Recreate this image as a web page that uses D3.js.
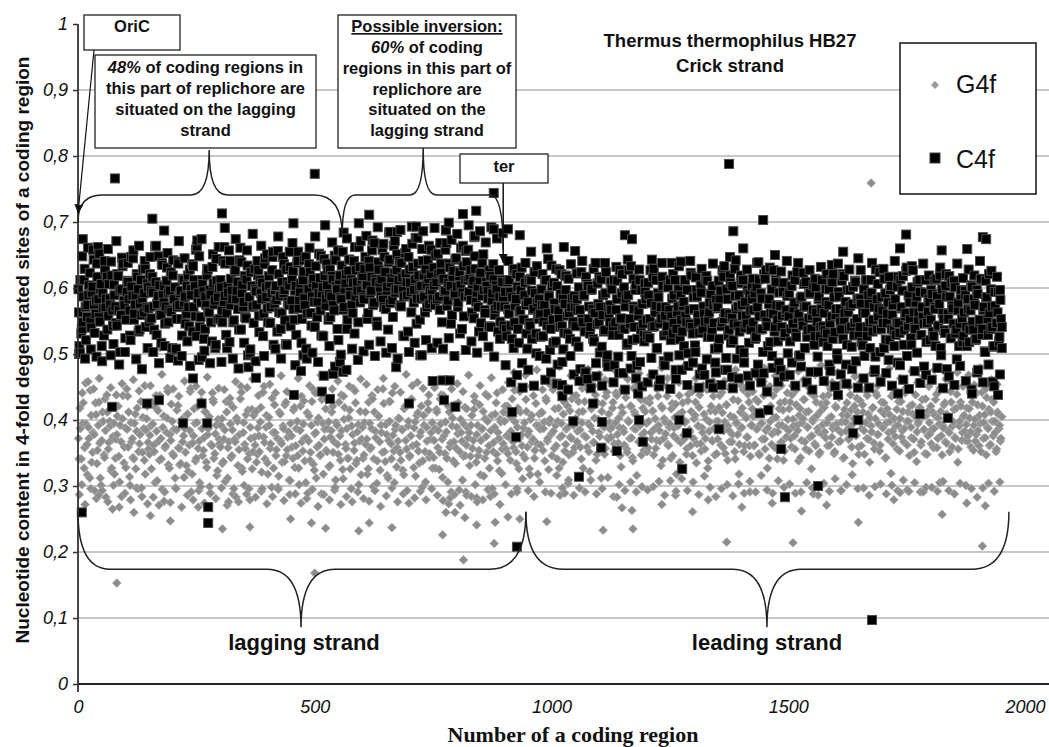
<!DOCTYPE html>
<html>
<head>
<meta charset="utf-8">
<script src="https://cdn.jsdelivr.net/npm/d3@7.9.0/dist/d3.min.js"></script>
<style>
  html, body { margin: 0; padding: 0; background: #fff; }
  svg { display: block; font-family: "Liberation Sans", Arial, sans-serif; }
  .tick-label { font-style: italic; font-size: 18px; fill: #111; }
  .box-text { font-weight: bold; font-size: 16.5px; fill: #111; }
</style>
</head>
<body>
<svg id="chart" width="1049" height="747"></svg>
<script>
// ------- data -------
const xTicks = [0, 500, 1000, 1500, 2000];
const yTicks = [0, 0.1, 0.2, 0.3, 0.4, 0.5, 0.6, 0.7, 0.8, 0.9, 1];

// interleaved samples of the coding regions (values in thousandths)
const regionStep = 3;
const startA = 1;      // regions 1, 4, 7, ...
const startB = 2;      // regions 2, 5, 8, ...
const tailStart = 3;   // regions 3, 9, 15, ... (points away from the core)
const tailStep = 6;

const c4fValues = [
  598,502,531,548,612,571,556,589,623,540,602,575,561,637,583,549,606,592,528,571,617,558,584,640,566,
  605,572,543,618,596,559,633,581,524,594,609,566,647,588,552,575,621,598,537,612,584,563,629,571,601,
  548,596,617,572,663,529,588,604,559,635,578,546,611,593,567,624,509,582,601,553,640,574,596,528,612,
  587,561,619,542,598,636,571,603,527,584,648,556,612,595,538,574,628,563,590,519,607,581,644,552,599,
  612,566,641,588,529,603,657,574,596,548,625,583,609,537,661,592,571,618,554,634,586,507,603,572,629,
  595,641,558,612,583,527,636,601,569,618,547,592,655,576,603,534,621,588,562,647,597,515,609,574,632,
  581,626,552,603,638,569,594,517,612,585,647,561,598,624,543,607,579,633,556,592,615,528,601,644,573,
  604,552,628,587,613,566,642,598,521,619,583,655,571,607,538,626,594,613,562,641,587,609,548,632,596,
  618,583,647,604,562,631,596,672,578,613,549,639,605,587,658,571,624,596,537,643,608,582,664,593,627,
  598,641,572,616,587,653,609,534,628,594,667,578,613,546,637,601,584,659,619,563,605,642,576,621,592,
  631,574,609,652,587,623,548,614,596,668,581,637,603,559,626,592,645,571,618,604,538,633,587,656,612,
  594,627,563,611,648,579,602,534,623,588,651,567,609,595,542,618,581,636,559,604,573,627,549,612,586,
  572,538,609,561,594,523,627,548,583,602,517,566,631,552,589,574,508,612,543,596,567,624,531,578,553,
  561,598,527,574,612,543,589,506,634,552,577,519,603,566,541,621,584,532,597,558,614,523,571,546,588,
  542,583,511,567,624,548,589,472,606,553,531,597,568,519,638,545,576,502,613,559,534,592,487,571,548,
  567,529,612,548,583,496,627,554,538,601,572,514,589,546,633,521,568,597,483,558,612,537,576,529,594,
  552,608,524,577,541,629,563,508,592,546,571,617,489,558,534,601,567,521,584,547,612,538,572,498,589,
  534,579,612,548,501,567,623,541,586,513,597,559,532,604,478,572,549,618,526,563,591,537,574,508,582,
  571,523,596,548,617,562,494,583,537,608,555,521,629,568,543,589,506,574,612,539,558,597,517,566,603,
  548,592,526,571,613,537,584,503,559,627,542,576,518,598,561,534,609,552,487,573,541,594,527,562,588,
  557,519,603,546,578,532,624,561,498,587,543,571,609,526,554,592,538,567,514,601,549,583,527,568,542,
  562,598,531,574,547,612,523,586,559,501,594,568,537,621,552,579,514,563,597,541,576,528,609,553,584,
  541,576,513,598,562,527,589,548,612,534,571,496,583,557,624,538,566,509,592,547,578,521,603,559,536,
  583,548,617,532,569,596,514,557,631,542,578,524,601,563,538,587,552,612,529,571,546,593,518,564,579,
  552,591,527,568,614,541,576,509,598,553,532,587,561,618,524,573,546,601,537,566,512,589,554,527,596,
  541,583,518,566,602,537,574,523,591,548,612,529,567,504,586,553,621,538,572,511,594,547,563,519,582,541
];

const c4fValues2 = [
  563,612,538,587,629,521,574,604,549,593,658,532,581,617,556,598,512,569,641,584,537,606,575,619,543,
  589,547,621,566,503,598,637,574,552,611,583,528,602,645,561,589,617,534,576,559,628,592,541,607,569,
  621,554,593,537,609,576,648,561,517,589,603,572,631,548,596,564,619,583,506,571,637,592,553,614,578,
  546,603,571,628,589,534,612,557,663,592,541,578,606,523,587,619,564,597,548,632,575,509,611,586,553,
  601,548,579,637,562,593,518,614,583,551,627,596,568,642,537,605,579,556,613,498,586,624,571,547,598,
  574,619,533,592,608,561,645,586,548,603,571,627,514,597,582,656,563,538,609,592,551,628,579,604,542,
  613,568,596,529,641,582,607,553,625,574,508,598,636,562,587,614,541,603,579,652,566,592,527,618,584,
  627,591,556,618,574,649,603,538,612,586,634,567,598,621,552,643,589,574,608,531,627,596,662,578,613,
  586,629,604,553,641,592,617,574,668,609,543,628,595,613,582,647,568,602,639,577,615,556,623,598,651,
  612,574,638,596,527,621,589,647,608,563,632,597,676,584,619,552,603,641,587,628,571,614,596,658,583,
  604,649,583,621,567,637,612,594,658,573,608,631,546,617,589,643,602,578,624,661,593,557,612,639,588,
  617,582,606,554,629,593,571,612,547,638,597,562,603,584,627,541,592,613,568,598,534,587,572,609,543,
  594,527,568,612,543,586,509,573,621,538,564,597,486,552,608,531,579,547,614,523,568,592,501,557,583,
  526,574,549,611,493,562,587,538,603,517,568,629,484,553,591,542,507,576,618,531,562,497,584,549,571,
  519,566,601,477,553,588,534,617,462,572,541,598,523,562,486,607,548,571,511,589,536,624,498,557,574,
  598,542,483,567,611,529,553,592,471,538,584,516,627,553,497,572,541,605,523,566,488,597,546,519,583,
  527,589,553,494,617,542,573,509,586,461,554,603,528,571,542,496,612,557,531,589,476,563,598,522,552,
  573,512,558,597,482,546,619,531,568,503,587,548,469,593,537,561,614,492,552,578,526,603,547,487,569,
  509,584,542,627,553,476,598,528,561,517,603,546,588,493,572,534,619,558,502,579,546,467,592,537,583,
  567,523,601,484,557,592,538,471,614,549,512,583,562,497,627,541,574,519,593,476,558,608,532,567,501,
  592,538,487,569,612,526,553,497,584,548,623,509,572,536,591,473,558,604,527,563,496,587,541,612,518,
  536,579,512,598,474,557,621,533,568,492,587,549,611,523,562,484,597,538,573,511,602,547,489,583,529,
  584,518,563,497,612,541,576,509,593,552,473,628,537,569,503,586,547,614,522,561,491,597,538,574,512,
  529,602,547,483,571,618,536,562,497,589,553,514,627,541,578,502,563,594,529,556,481,612,547,583,521,
  597,534,571,512,588,543,619,498,562,536,603,477,553,587,524,569,611,531,492,578,546,597,518,563,589,
  512,568,537,604,549,583,521,597,476,552,614,538,571,503,586,529,562,598,541,512,573,547,594,526,553
];

const c4fTails = [
  512,648,493,661,507,643,496,652,489,627,659,498,515,671,484,646,503,638,521,657,492,664,477,641,509,
  647,503,664,486,638,512,653,494,642,508,671,497,645,519,482,633,658,491,674,505,629,486,651,514,662,
  488,662,509,641,493,674,478,639,517,657,501,682,489,627,664,497,651,472,647,508,678,493,636,514,655,
  668,483,655,474,642,493,661,502,678,488,649,467,637,512,669,481,657,499,684,476,643,508,662,491,671,
  504,679,514,657,497,692,519,667,502,684,509,671,493,688,528,659,503,693,517,676,498,686,521,664,509,
  691,517,668,508,687,524,673,497,682,531,664,506,695,519,677,502,686,527,669,511,692,496,675,523,683,
  483,641,457,629,468,617,449,638,476,612,452,633,497,621,461,644,472,608,455,627,488,619,446,636,469,
  622,459,641,473,603,448,629,466,617,452,638,481,609,457,632,471,621,446,643,478,614,463,628,451,607,
  457,627,469,612,451,638,483,604,447,621,462,633,476,609,453,641,487,616,449,629,468,611,455,637,472,
  611,453,633,476,619,448,642,463,607,487,628,452,614,471,639,457,621,443,631,479,612,458,625,466,641,
  468,619,452,638,481,606,457,627,446,614,473,632,459,621,484,609,451,637,469,618,455,628,477,611,449,
  627,463,612,449,638,476,606,458,629,471,617,452,641,487,613,461,626,447,633,474,609,456,637,468,619,
  461,612,479,631,448,621,466,608,453,637,482,615,459,628,446,619,472,641,457,611,484,626,451,617,469
];

const g4fValues = [
  372,418,341,395,327,456,363,389,312,407,351,378,426,334,392,365,301,412,347,384,438,356,398,323,371,
  395,342,378,421,306,367,402,335,388,447,359,314,396,372,341,409,383,296,364,428,351,387,318,402,366,
  348,391,427,362,305,383,414,339,372,295,406,358,381,443,327,369,398,346,312,385,422,357,334,401,376,
  387,331,409,362,448,318,376,395,342,421,368,299,387,354,413,336,378,405,289,361,427,349,392,323,371,
  359,402,337,385,428,312,367,394,346,419,371,283,398,355,432,327,381,363,408,341,296,389,416,352,374,
  413,348,376,397,321,442,366,389,335,404,357,298,381,423,346,372,315,409,364,391,337,427,355,382,308,
  376,342,419,361,398,327,384,436,353,372,305,411,368,339,392,447,324,381,359,403,346,288,395,371,417,
  352,397,331,384,421,367,309,392,348,376,438,325,401,363,387,342,415,296,378,354,426,339,393,368,317,
  389,347,412,371,326,395,358,432,341,383,304,406,367,392,351,425,337,378,312,398,364,441,353,386,329,
  368,402,339,385,317,421,356,391,344,376,452,328,397,363,411,335,382,298,407,352,389,426,343,371,396,
  343,387,416,358,325,394,371,437,349,382,306,412,365,391,338,423,357,379,294,401,368,345,419,362,388,
  381,345,407,369,428,336,392,354,317,386,413,342,375,398,361,284,407,352,389,426,338,372,401,319,364,
  398,356,421,374,339,403,367,445,352,389,326,412,378,347,396,431,359,383,317,407,371,342,425,364,391,
  386,412,354,397,433,368,325,401,379,446,357,392,341,418,374,395,336,427,363,388,309,414,372,351,436,
  402,367,428,385,341,413,376,452,359,394,322,417,383,366,438,348,401,375,312,425,389,357,442,371,396,
  374,418,353,396,437,365,388,329,411,382,445,356,399,372,421,343,387,408,316,392,367,431,378,354,413,
  395,358,426,381,413,347,402,369,436,384,331,418,372,397,451,363,389,342,425,376,404,318,391,437,366,
  412,377,396,348,429,385,361,443,372,407,335,391,419,364,388,452,356,401,327,383,414,369,436,347,398,
  371,419,386,442,358,397,423,339,384,406,367,431,352,395,378,318,412,389,446,361,403,374,427,345,392,
  406,362,431,387,349,413,395,458,371,384,327,419,398,363,437,382,404,341,392,426,367,415,353,388,441,
  384,427,359,401,376,445,392,338,417,369,402,431,356,389,413,374,326,398,436,361,407,382,351,424,393,
  419,373,396,438,362,405,387,349,421,394,367,452,381,408,343,397,426,371,389,415,334,402,378,433,359,
  397,361,423,384,447,372,409,336,391,418,365,402,437,378,353,414,389,426,342,396,371,408,319,383,441,
  375,416,392,353,428,384,367,441,398,412,346,389,423,371,406,337,394,418,362,431,385,349,407,376,396,
  421,386,358,407,439,372,394,413,347,388,426,365,402,381,443,359,397,374,418,336,391,427,369,405,383,
  393,368,417,382,436,354,401,378,423,361,395,442,372,408,347,389,416,363,431,376,398,352,412,387,368,405
];

const g4fValues2 = [
  341,387,302,426,358,394,317,372,445,336,381,293,408,354,427,312,369,398,343,283,412,366,391,327,375,
  318,371,406,345,392,284,437,359,328,386,412,301,367,343,395,326,418,352,378,297,404,339,385,421,356,
  377,326,394,352,419,308,368,437,341,389,277,361,403,332,378,424,349,386,297,415,358,332,396,367,313,
  351,408,322,384,291,365,417,338,396,357,305,429,346,373,412,328,387,299,363,441,342,379,316,401,364,
  392,334,371,307,412,358,426,343,385,296,367,403,331,378,451,322,396,357,288,415,349,372,326,407,362,
  336,388,352,419,296,374,341,407,318,392,364,433,327,381,355,298,412,368,336,387,423,346,374,309,395,
  359,415,328,387,346,302,421,367,394,338,373,289,406,351,428,333,379,312,397,362,347,431,318,386,354,
  387,329,374,412,351,294,396,363,427,339,384,311,419,357,342,403,326,391,448,365,334,382,302,413,371,
  342,396,363,318,427,356,387,299,412,373,338,406,324,381,447,352,393,316,369,428,341,377,305,392,358,
  403,351,386,324,417,369,293,398,346,432,361,388,315,407,353,376,421,338,392,306,368,415,349,381,327,
  369,327,412,384,351,438,313,376,397,342,421,359,291,403,367,334,389,426,352,381,309,394,346,417,373,
  331,392,357,416,302,378,346,423,369,387,315,402,351,436,327,384,296,366,409,348,381,323,397,356,412,
  421,376,349,407,383,432,358,397,334,418,372,449,361,388,342,413,378,326,401,367,437,354,392,318,409,
  362,411,387,338,429,372,396,453,346,383,417,361,398,327,441,376,409,353,386,421,347,374,432,392,358,
  437,383,412,359,396,327,428,374,447,352,391,418,366,403,339,426,381,357,413,392,348,436,373,409,386,
  389,427,364,441,378,403,346,419,387,362,434,351,397,421,373,338,412,386,453,367,392,347,418,381,429,
  352,398,433,371,414,386,357,447,392,368,421,339,402,379,436,361,394,417,346,388,424,371,408,336,397,
  426,371,398,357,439,382,413,346,402,427,364,391,438,353,381,409,372,446,338,397,421,368,387,413,349,
  398,437,362,411,384,349,423,391,367,452,378,404,341,396,429,363,387,418,352,406,374,439,361,392,417,
  361,409,386,428,347,394,371,437,356,413,388,342,421,379,403,358,446,382,417,366,392,339,428,374,401,
  417,372,438,391,356,423,384,407,343,396,431,367,412,389,353,441,376,402,364,427,387,348,413,379,436,
  382,426,361,403,447,374,391,352,419,386,434,368,397,342,416,383,407,371,438,359,394,421,376,412,348,
  429,387,412,348,396,437,371,403,382,419,356,441,378,394,362,427,388,409,343,417,381,398,436,364,402,
  391,356,428,402,374,413,387,446,362,398,421,373,409,351,438,382,397,419,367,406,386,432,348,414,379,
  364,412,387,431,358,403,446,376,392,423,367,409,384,352,427,391,416,372,439,356,398,421,381,407,369,
  418,376,403,359,427,392,368,441,384,407,352,421,396,373,434,387,361,412,398,427,381,356,409,392,372
];

const g4fTails = [
  287,441,272,458,296,447,281,463,293,432,276,449,301,438,268,455,289,436,279,461,297,444,284,452,273,
  452,283,437,271,469,291,448,275,447,296,436,268,459,286,443,279,451,293,442,274,465,289,431,281,448,
  297,446,271,433,288,458,276,442,301,449,279,462,283,437,292,451,273,454,284,441,295,467,278,443,287,
  438,288,463,274,429,281,452,295,441,269,468,287,432,279,447,298,459,272,436,284,451,276,444,291,462,
  281,454,277,437,293,446,269,463,285,428,297,451,276,442,288,469,274,431,282,457,292,448,279,438,296,
  449,286,432,278,461,273,447,287,455,271,443,291,468,284,436,276,452,279,439,295,464,288,441,272,446,
  302,457,288,472,296,443,311,468,293,451,284,476,306,446,291,462,289,459,316,481,297,452,304,467,286,
  463,297,448,291,477,309,452,288,469,296,461,313,458,284,473,302,446,293,462,306,448,291,471,299,455,
  294,468,299,452,307,479,286,463,308,466,292,457,311,482,293,449,306,463,287,474,315,451,298,459,284,
  471,296,459,302,447,285,476,303,452,289,468,307,443,291,462,316,479,294,451,289,467,308,452,298,473,
  303,452,289,474,291,461,305,448,297,469,286,483,304,456,292,457,311,472,293,459,302,451,317,466,296,
  458,297,443,286,471,299,452,303,467,288,478,301,446,293,463,309,449,292,474,305,457,291,466,298,451,
  298,476,292,449,307,462,293,457,288,472,304,451,301,468,296,453,283,479,297,447,304,461,292,454,306
];

// individual points read directly: [region, value]
const c4fExtra = [
  [2,0.50],[8,0.26],[10,0.674],[42,0.662],[72,0.42],[78,0.766],[146,0.425],[157,0.705],[171,0.43],
  [182,0.687],[211,0.49],[222,0.395],[243,0.463],[252,0.672],[261,0.425],[262,0.495],[273,0.395],
  [275,0.268],[275,0.244],[304,0.713],[310,0.691],[360,0.48],[376,0.464],[455,0.698],[456,0.438],
  [476,0.498],[500,0.773],[515,0.443],[522,0.695],[532,0.432],[539,0.47],[553,0.488],[560,0.473],
  [568,0.675],[593,0.698],[615,0.711],[659,0.685],[672,0.48],[674,0.685],[699,0.425],[714,0.693],
  [726,0.498],[749,0.459],[770,0.46],[773,0.43],[777,0.688],[783,0.699],[785,0.46],[797,0.42],
  [813,0.712],[824,0.658],[838,0.679],[841,0.717],[878,0.744],[878,0.689],[908,0.689],[917,0.412],
  [925,0.374],[927,0.208],[933,0.68],[957,0.655],[990,0.66],[1022,0.453],[1023,0.436],[1026,0.662],
  [1046,0.398],[1050,0.656],[1058,0.314],[1088,0.425],[1105,0.358],[1107,0.397],[1138,0.353],
  [1155,0.68],[1170,0.674],[1183,0.44],[1185,0.40],[1193,0.367],[1212,0.643],[1254,0.638],
  [1270,0.40],[1273,0.64],[1276,0.326],[1286,0.38],[1341,0.449],[1354,0.386],[1375,0.788],
  [1377,0.647],[1381,0.465],[1384,0.686],[1405,0.66],[1434,0.638],[1440,0.41],[1447,0.703],
  [1458,0.415],[1472,0.65],[1485,0.356],[1493,0.283],[1563,0.30],[1592,0.635],[1605,0.438],
  [1616,0.655],[1637,0.38],[1648,0.40],[1648,0.645],[1677,0.097],[1732,0.44],[1736,0.66],
  [1749,0.681],[1778,0.409],[1824,0.657],[1837,0.403],[1878,0.659],[1888,0.44],[1911,0.677],
  [1918,0.674],[1932,0.458],[1943,0.438],[1947,0.597],[1951,0.509]
];

const g4fExtra = [
  [44,0.286],[73,0.265],[82,0.153],[118,0.26],[153,0.255],[173,0.51],[195,0.247],[254,0.268],
  [305,0.235],[318,0.276],[363,0.238],[449,0.25],[493,0.244],[500,0.168],[523,0.236],[593,0.232],
  [615,0.244],[663,0.237],[770,0.226],[777,0.26],[786,0.282],[796,0.26],[814,0.188],[817,0.252],
  [821,0.286],[842,0.282],[842,0.241],[866,0.294],[879,0.213],[881,0.245],[908,0.253],[927,0.291],
  [933,0.25],[990,0.246],[1018,0.286],[1028,0.289],[1109,0.233],[1138,0.283],[1149,0.267],
  [1170,0.263],[1172,0.235],[1233,0.272],[1262,0.286],[1298,0.261],[1331,0.279],[1370,0.215],
  [1402,0.268],[1419,0.291],[1466,0.274],[1510,0.214],[1528,0.262],[1553,0.288],[1581,0.271],
  [1612,0.293],[1648,0.245],[1675,0.759],[1723,0.279],[1736,0.29],[1751,0.294],[1785,0.291],
  [1820,0.305],[1825,0.257],[1877,0.274],[1910,0.209],[1916,0.27]
];

// ------- setup -------
const W = 1049, H = 747;
const svg = d3.select('#chart');
const x = d3.scaleLinear().domain([0, 2000]).range([78, 1025]);
const y = d3.scaleLinear().domain([0, 1]).range([684, 24]);

const sample = (vals, start, step) =>
  vals.map((v, i) => ({ region: start + i * step, value: v / 1000 }));
const toPoints = (samples, extra) =>
  samples.flatMap(([vals, start, step]) => sample(vals, start, step))
    .concat(extra.map(([r, v]) => ({ region: r, value: v })))
    .sort((a, b) => a.region - b.region);

const g4f = toPoints([
  [g4fValues, startA, regionStep], [g4fValues2, startB, regionStep], [g4fTails, tailStart, tailStep]
], g4fExtra);
const c4f = toPoints([
  [c4fValues, startA, regionStep], [c4fValues2, startB, regionStep], [c4fTails, tailStart, tailStep]
], c4fExtra);

// gridlines
svg.append('g')
  .selectAll('line')
  .data(yTicks.filter(d => d > 0 && d < 1))
  .join('line')
  .attr('x1', x(0)).attr('x2', W)
  .attr('y1', d => y(d)).attr('y2', d => y(d))
  .attr('stroke', '#b4b4b4').attr('stroke-width', 1.5);

// ------- points -------
const diamond = d3.symbol(d3.symbolSquare, 38)();
svg.append('g')
  .selectAll('path')
  .data(g4f)
  .join('path')
  .attr('d', diamond)
  .attr('transform', d => `translate(${x(d.region)},${y(d.value)}) rotate(45)`)
  .attr('fill', '#8c8c8c')
  .attr('stroke', '#a9a9a9')
  .attr('stroke-width', 0.8);

svg.append('g')
  .selectAll('rect')
  .data(c4f)
  .join('rect')
  .attr('x', d => x(d.region) - 4.5)
  .attr('y', d => y(d.value) - 4.5)
  .attr('width', 9).attr('height', 9)
  .attr('fill', '#000')
  .attr('stroke', '#4a4a4a')
  .attr('stroke-width', 1);

// ------- axes -------
const yAxis = svg.append('g')
  .attr('transform', `translate(${x(0)},0)`)
  .call(d3.axisLeft(y).tickValues(yTicks).tickSize(5).tickPadding(5)
    .tickFormat(d => String(d).replace('.', ',')));
yAxis.select('.domain').remove();
yAxis.selectAll('.tick line').attr('stroke', '#333').attr('stroke-width', 1.5);
yAxis.selectAll('.tick text').attr('class', 'tick-label').attr('font-family', null).attr('font-size', null);

svg.append('line')
  .attr('x1', x(0)).attr('x2', x(0))
  .attr('y1', y(1)).attr('y2', y(0) + 8)
  .attr('stroke', '#333').attr('stroke-width', 1.8);

const xAxis = svg.append('g')
  .attr('transform', `translate(0,${y(0)})`)
  .call(d3.axisBottom(x).tickValues(xTicks).tickSize(0).tickPadding(16).tickFormat(d3.format('d')));
xAxis.select('.domain').remove();
xAxis.selectAll('.tick text').attr('class', 'tick-label').attr('font-family', null).attr('font-size', null);

svg.append('line')
  .attr('x1', x(0)).attr('x2', W)
  .attr('y1', y(0)).attr('y2', y(0))
  .attr('stroke', '#222').attr('stroke-width', 2.2);

svg.append('text')
  .attr('transform', 'translate(29,350) rotate(-90)')
  .attr('text-anchor', 'middle')
  .attr('font-weight', 'bold')
  .attr('font-size', 19)
  .attr('fill', '#111')
  .text('Nucleotide content in 4-fold degenerated sites of a coding region');

svg.append('text')
  .attr('x', 573).attr('y', 742)
  .attr('text-anchor', 'middle')
  .attr('font-family', '"Liberation Serif", "Times New Roman", serif')
  .attr('font-weight', 'bold')
  .attr('font-size', 22)
  .attr('fill', '#111')
  .text('Number of a coding region');

// ------- title & legend -------
svg.append('text')
  .attr('x', 730).attr('y', 47)
  .attr('text-anchor', 'middle').attr('font-weight', 'bold').attr('font-size', 18.5).attr('fill', '#111')
  .text('Thermus thermophilus HB27');
svg.append('text')
  .attr('x', 730).attr('y', 72)
  .attr('text-anchor', 'middle').attr('font-weight', 'bold').attr('font-size', 18.5).attr('fill', '#111')
  .text('Crick strand');

const legend = svg.append('g');
legend.append('rect')
  .attr('x', 900).attr('y', 43).attr('width', 136).attr('height', 151)
  .attr('fill', '#fff').attr('stroke', '#111').attr('stroke-width', 1.5);
legend.append('path')
  .attr('d', d3.symbol(d3.symbolSquare, 30)())
  .attr('transform', 'translate(935,85) rotate(45)')
  .attr('fill', '#999').attr('stroke', '#bbb').attr('stroke-width', 0.6);
legend.append('rect')
  .attr('x', 930).attr('y', 153).attr('width', 10).attr('height', 10)
  .attr('fill', '#000').attr('stroke', '#444');
legend.append('text').attr('x', 956).attr('y', 93).attr('font-size', 25).attr('fill', '#111').text('G4f');
legend.append('text').attr('x', 956).attr('y', 168).attr('font-size', 25).attr('fill', '#111').text('C4f');

// ------- annotations -------
const defs = svg.append('defs');
defs.append('marker')
  .attr('id', 'arrow').attr('viewBox', '0 0 10 10')
  .attr('refX', 10).attr('refY', 5)
  .attr('markerWidth', 9).attr('markerHeight', 9)
  .attr('markerUnits', 'userSpaceOnUse')
  .attr('orient', 'auto')
  .append('path').attr('d', 'M0,0 L10,5 L0,10 Z').attr('fill', '#111');

// brace: ends a,b [region,value], level h, cusp c [region,value], pixel radii
function brace(a, b, h, c, r1, r2, rc) {
  const x1 = x(a[0]), y1 = y(a[1]), x2 = x(b[0]), y2 = y(b[1]);
  const yh = y(h), xc = x(c[0]), yc = y(c[1]);
  return `M${x1},${y1} Q${x1},${yh} ${x1 + r1},${yh} L${xc - rc},${yh} ` +
    `Q${xc},${yh} ${xc},${yc} Q${xc},${yh} ${xc + rc},${yh} L${x2 - r2},${yh} Q${x2},${yh} ${x2},${y2}`;
}

const braces = [
  brace([0, 0.700], [558, 0.680], 0.741, [277, 0.809], 24, 28, 18),
  brace([558, 0.680], [898, 0.658], 0.741, [729, 0.812], 13, 13, 13),
  brace([0, 0.261], [946, 0.261], 0.174, [471, 0.086], 32, 36, 34),
  brace([946, 0.261], [1966, 0.261], 0.174, [1455, 0.086], 37, 37, 34)
];
svg.append('g').selectAll('path').data(braces).join('path')
  .attr('d', d => d).attr('fill', 'none').attr('stroke', '#222').attr('stroke-width', 1.5);

// arrows
svg.append('line')
  .attr('x1', 94).attr('y1', 50).attr('x2', x(0)).attr('y2', y(0.713))
  .attr('stroke', '#111').attr('stroke-width', 1.2).attr('marker-end', 'url(#arrow)');
svg.append('line')
  .attr('x1', x(898)).attr('y1', 183).attr('x2', x(898)).attr('y2', y(0.638))
  .attr('stroke', '#111').attr('stroke-width', 1.5).attr('marker-end', 'url(#arrow)');

function textBox(x0, y0, w, h, lines, baselines) {
  const g = svg.append('g');
  g.append('rect').attr('x', x0).attr('y', y0).attr('width', w).attr('height', h)
    .attr('fill', '#fff').attr('stroke', '#222').attr('stroke-width', 1.3);
  lines.forEach((parts, i) => {
    const t = g.append('text').attr('class', 'box-text')
      .attr('x', x0 + w / 2).attr('y', baselines[i]).attr('text-anchor', 'middle');
    parts.forEach(p => {
      const s = t.append('tspan').text(p.t);
      if (p.i) s.attr('font-style', 'italic');
      if (p.u) s.attr('text-decoration', 'underline');
    });
  });
}

textBox(84, 15, 96, 35, [[{ t: 'OriC' }]], [32]);
textBox(95, 55, 221, 93, [
  [{ t: '48%', i: true }, { t: ' of coding regions in' }],
  [{ t: 'this part of replichore are' }],
  [{ t: 'situated on the lagging' }],
  [{ t: 'strand' }]
], [73, 94, 115, 136]);
textBox(338, 15, 178, 133, [
  [{ t: 'Possible inversion:', u: true }],
  [{ t: '60%', i: true }, { t: ' of coding' }],
  [{ t: 'regions in this part of' }],
  [{ t: 'replichore are' }],
  [{ t: 'situated on the' }],
  [{ t: 'lagging strand' }]
], [32, 53, 74, 95, 115, 136]);
textBox(460, 154, 88, 29, [[{ t: 'ter' }]], [172]);

svg.append('text')
  .attr('x', 304).attr('y', 650).attr('text-anchor', 'middle')
  .attr('font-weight', 'bold').attr('font-size', 22).attr('fill', '#111')
  .text('lagging strand');
svg.append('text')
  .attr('x', 767).attr('y', 650).attr('text-anchor', 'middle')
  .attr('font-weight', 'bold').attr('font-size', 22).attr('fill', '#111')
  .text('leading strand');
</script>
</body>
</html>
